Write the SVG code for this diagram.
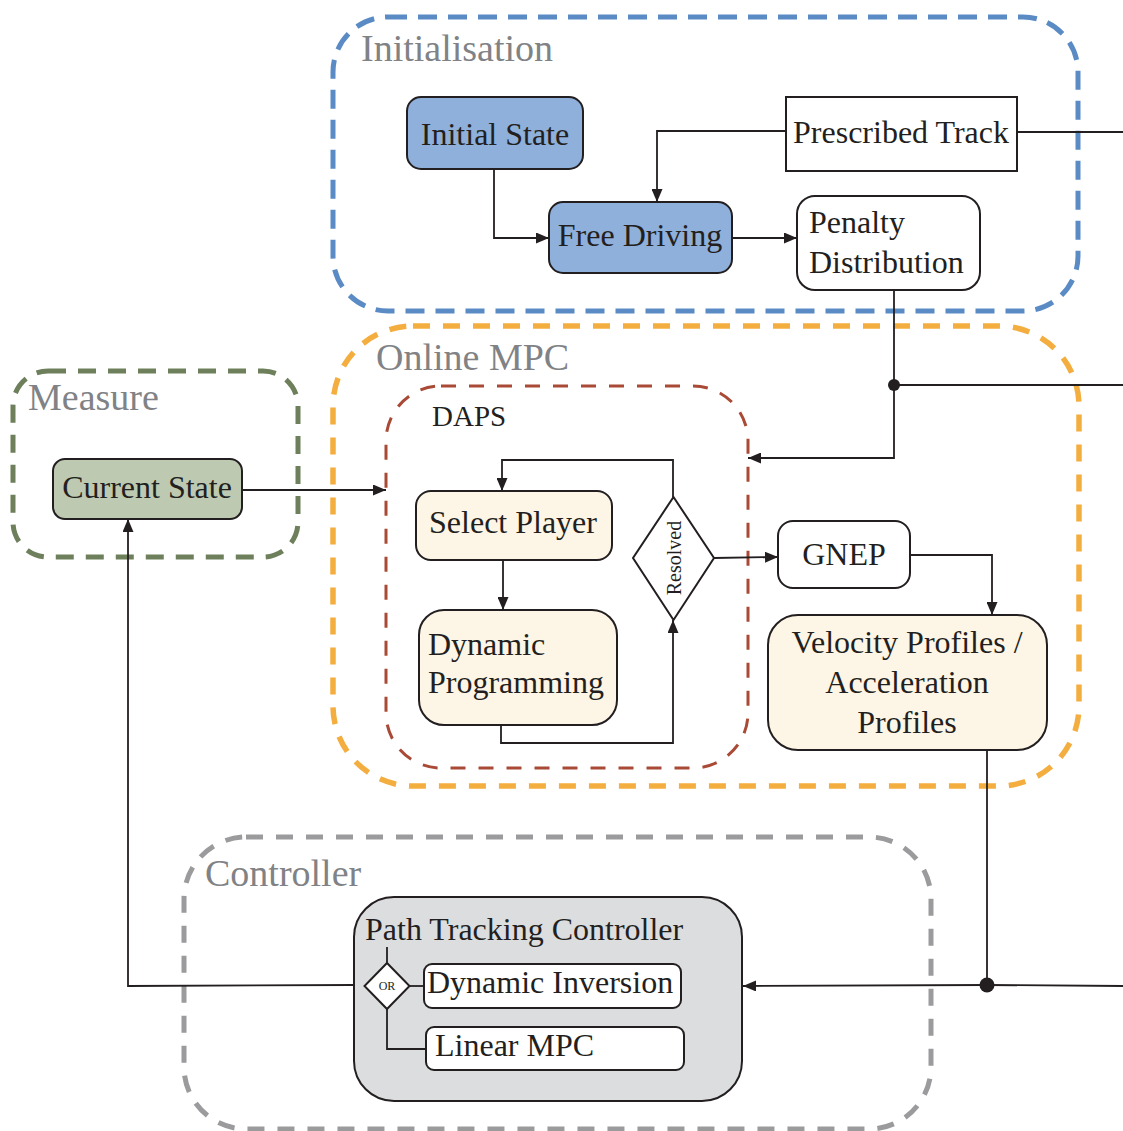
<svg xmlns="http://www.w3.org/2000/svg" width="1123" height="1131" viewBox="0 0 1123 1131">
<defs>
<marker id="arr" markerUnits="userSpaceOnUse" markerWidth="13" markerHeight="11" refX="13" refY="5.5" orient="auto">
<path d="M0,0 L13,5.5 L0,11 z" fill="#231f20"/>
</marker>
<style>
.grp{fill:none;stroke-linecap:butt}
.lbl{font-family:"Liberation Serif","Times New Roman",serif;font-size:38px;fill:#808285}
.t{font-family:"Liberation Serif","Times New Roman",serif;font-size:32px;fill:#231f20}
.n{stroke:#231f20;stroke-width:2}
.c{fill:none;stroke:#231f20;stroke-width:1.8}
.blue{fill:#8eb0db}
.cream{fill:#fdf5e6}
.white{fill:#ffffff}
</style>
</defs>
<rect width="1123" height="1131" fill="#ffffff"/>

<g id="containers">
<g id="initialisation">
<rect class="grp" x="333" y="17" width="745" height="294" rx="55" stroke="#5b8bc5" stroke-width="5" stroke-dasharray="19 11"/>
<text class="lbl" x="361" y="61">Initialisation</text>
</g>
<g id="online-mpc">
<rect class="grp" x="333" y="326" width="746" height="460" rx="80" stroke="#f3ae3f" stroke-width="5.5" stroke-dasharray="17 13"/>
<text class="lbl" x="376" y="370">Online MPC</text>
</g>
<g id="measure">
<rect class="grp" x="13" y="371" width="285" height="186" rx="35" stroke="#6e7f5b" stroke-width="5" stroke-dasharray="18 12"/>
<text class="lbl" x="28" y="410">Measure</text>
</g>
<g id="daps">
<rect class="grp" x="386" y="386" width="362" height="382" rx="55" stroke="#a94a36" stroke-width="3" stroke-dasharray="15 13"/>
<text class="t" x="432" y="426" style="font-size:29px">DAPS</text>
</g>
<g id="controller">
<rect class="grp" x="184" y="837" width="747" height="292" rx="62" stroke="#9b9b9d" stroke-width="5" stroke-dasharray="17 13"/>
<text class="lbl" x="205" y="886">Controller</text>
</g>
</g>

<g id="connectors">
<polyline class="c" points="494,170 494,238 549,238" marker-end="url(#arr)"/>
<polyline class="c" points="786,131 657,131 657,202" marker-end="url(#arr)"/>
<line class="c" x1="1017" y1="132" x2="1123" y2="132"/>
<line class="c" x1="732" y1="238" x2="797" y2="238" marker-end="url(#arr)"/>
<polyline class="c" points="894,290 894,458 748,458" marker-end="url(#arr)"/>
<line class="c" x1="894" y1="385" x2="1123" y2="385"/>
<circle cx="894" cy="385" r="6" fill="#231f20"/>
<line class="c" x1="242" y1="490" x2="386" y2="490" marker-end="url(#arr)"/>
<line class="c" x1="503" y1="560" x2="503" y2="610" marker-end="url(#arr)"/>
<polyline class="c" points="501,725 501,743 673,743 673,620" marker-end="url(#arr)"/>
<polyline class="c" points="673,497 673,460 502,460 502,491" marker-end="url(#arr)"/>
<line class="c" x1="714" y1="558" x2="778" y2="557" marker-end="url(#arr)"/>
<polyline class="c" points="910,555 992,555 992,615" marker-end="url(#arr)"/>
<line class="c" x1="987" y1="750" x2="987" y2="985"/>
<line class="c" x1="987" y1="985" x2="1123" y2="986"/>
<line class="c" x1="987" y1="985" x2="743" y2="986" marker-end="url(#arr)"/>
<circle cx="987" cy="985" r="7.5" fill="#231f20"/>
<polyline class="c" points="354,985 128,986 128,519" marker-end="url(#arr)"/>
</g>

<g id="initial-state">
<rect class="n blue" x="407" y="97" width="176" height="72" rx="14"/>
<text class="t" x="495" y="145" text-anchor="middle">Initial State</text>
</g>
<g id="free-driving">
<rect class="n blue" x="549" y="202" width="183" height="71" rx="14"/>
<text class="t" x="640" y="246" text-anchor="middle">Free Driving</text>
</g>
<g id="prescribed-track">
<rect class="n white" x="786" y="97" width="231" height="74"/>
<text class="t" x="901" y="143" text-anchor="middle">Prescribed Track</text>
</g>
<g id="penalty-distribution">
<rect class="n white" x="797" y="196" width="183" height="94" rx="18"/>
<text class="t" x="809" y="233">Penalty</text>
<text class="t" x="809" y="273">Distribution</text>
</g>
<g id="current-state">
<rect class="n" fill="#bdcab1" x="53" y="459" width="189" height="60" rx="12"/>
<text class="t" x="147" y="498" text-anchor="middle">Current State</text>
</g>
<g id="select-player">
<rect class="n cream" x="416" y="491" width="196" height="69" rx="15"/>
<text class="t" x="513" y="533" text-anchor="middle">Select Player</text>
</g>
<g id="dynamic-programming">
<rect class="n cream" x="419" y="610" width="198" height="115" rx="25"/>
<text class="t" x="428" y="655">Dynamic</text>
<text class="t" x="428" y="693">Programming</text>
</g>
<g id="resolved">
<polygon class="n white" points="673.5,497 714,558 673.5,620 633,558"/>
<text class="t" transform="translate(681,558) rotate(-90)" text-anchor="middle" style="font-size:20px">Resolved</text>
</g>
<g id="gnep">
<rect class="n white" x="778" y="521" width="132" height="67" rx="15"/>
<text class="t" x="844" y="565" text-anchor="middle">GNEP</text>
</g>
<g id="velocity-profiles">
<rect class="n cream" x="768" y="615" width="279" height="135" rx="30"/>
<text class="t" x="907" y="653" text-anchor="middle">Velocity Profiles /</text>
<text class="t" x="907" y="693" text-anchor="middle">Acceleration</text>
<text class="t" x="907" y="733" text-anchor="middle">Profiles</text>
</g>
<g id="path-tracking-controller">
<rect class="n" fill="#dcdddf" x="354" y="897" width="388" height="204" rx="40"/>
<text class="t" x="365" y="940">Path Tracking Controller</text>
<g id="or-gate">
<polyline class="c" points="387,947 387,963"/>
<line class="c" x1="409" y1="986" x2="424" y2="986"/>
<polyline class="c" points="387,1009 387,1049 426,1049"/>
<polygon class="n white" points="387,963 409.5,986 387,1009 364.5,986"/>
<text x="387" y="990" text-anchor="middle" style="font-family:'Liberation Serif',serif;font-size:12px;fill:#231f20">OR</text>
</g>
<g id="dynamic-inversion">
<rect class="n white" x="424" y="964" width="257" height="44" rx="8"/>
<text class="t" x="427" y="993">Dynamic Inversion</text>
</g>
<g id="linear-mpc">
<rect class="n white" x="426" y="1027" width="258" height="43" rx="8"/>
<text class="t" x="435" y="1056">Linear MPC</text>
</g>
</g>
</svg>
